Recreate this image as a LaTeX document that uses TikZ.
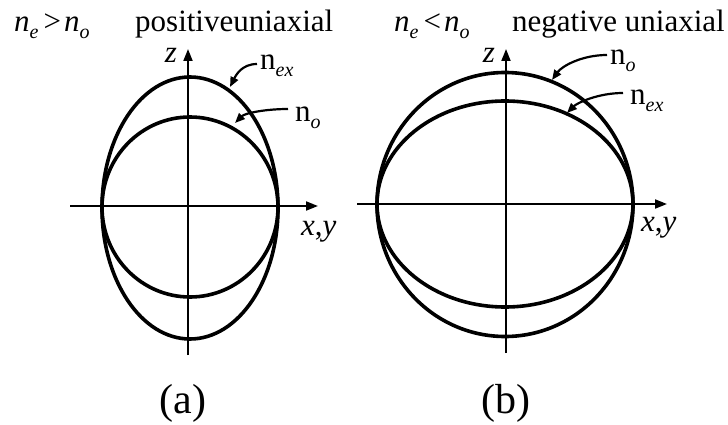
\documentclass[tikz,border=0pt]{standalone}
\usepackage{fontspec}
\setmainfont{Liberation Serif}
\usetikzlibrary{arrows.meta}
\newcommand\lsub[1]{\raisebox{-0.22em}{\fontsize{20}{20}\selectfont\itshape #1}}
\begin{document}
\begin{tikzpicture}[x=1pt,y=-1pt,
  txt/.style={inner sep=0pt,font=\fontsize{31}{34}\selectfont},
  captext/.style={inner sep=0pt,font=\fontsize{42}{46}\selectfont},
  axis/.style={line width=1.8pt,-{Triangle[length=12pt,width=9pt]}},
  shell/.style={line width=3.6pt},
  pointer/.style={line width=2.2pt,-{Triangle[length=10pt,width=8pt]}}]
\useasboundingbox (0,0) rectangle (728,425);
% ---------- panel (a)
\node[txt,anchor=base west] (ta1) at (14,32) {\textit{n}\lsub{e}\hspace{5pt}>\hspace{3pt}\textit{n}\lsub{o}};
\node[txt,anchor=base west] (ta2) at (135,32) {positiveuniaxial};
\coordinate (aL) at (70,206);
\coordinate (aR) at (318,206);
\coordinate (aB) at (188,355);
\coordinate (aT) at (188,49);
\draw[axis] (aL) -- (aR);
\draw[axis] (aB) -- (aT);
\node[txt,anchor=base] (za) at (171,63) {\textit{z}};
\node[txt,anchor=base west] (xya) at (301,235) {\textit{x},\textit{y}};
\draw[shell] (190,208) ellipse [x radius=88, y radius=131];
\draw[shell] (190,207) ellipse [x radius=88, y radius=90];
\node[txt,anchor=base west] (nexa) at (260,70) {n\lsub{ex}};
\node[txt,anchor=base west] (noa) at (295,122) {n\lsub{o}};
\coordinate (tnexa) at (230,87);
\coordinate (tnoa) at (235,123);
\draw[pointer] ([shift={(-3,-6)}]nexa.base west) .. controls +(-15,0) and +(6,-12) .. (tnexa);
\draw[pointer] ([shift={(-7,-13)}]noa.base west) .. controls +(-22,0) and +(10,-10) .. (tnoa);
\node[captext,anchor=base] (capa) at (183,413) {(a)};
% ---------- panel (b)
\node[txt,anchor=base west] (tb1) at (394,32) {\textit{n}\lsub{e}\hspace{5pt}<\hspace{3pt}\textit{n}\lsub{o}};
\node[txt,anchor=base east] (tb2) at (725,32) {negative uniaxial};
\coordinate (bL) at (357,204);
\coordinate (bR) at (667,204);
\coordinate (bB) at (506,353);
\coordinate (bT) at (506,49);
\draw[axis] (bL) -- (bR);
\draw[axis] (bB) -- (bT);
\node[txt,anchor=base] (zb) at (489,63) {\textit{z}};
\node[txt,anchor=base west] (xyb) at (641,231) {\textit{x},\textit{y}};
\draw[shell] (505,204.5) ellipse [x radius=128, y radius=132];
\draw[shell] (505,204) ellipse [x radius=128, y radius=103];
\node[txt,anchor=base west] (nob) at (610,65) {n\lsub{o}};
\node[txt,anchor=base west] (nexb) at (630,105) {n\lsub{ex}};
\coordinate (tnob) at (552,80);
\coordinate (tnexb) at (567,113);
\draw[pointer] ([shift={(-3,-10)}]nob.base west) .. controls +(-25,0) and +(10,-14) .. (tnob);
\draw[pointer] ([shift={(-7,-12)}]nexb.base west) .. controls +(-25,0) and +(10,-10) .. (tnexb);
\node[captext,anchor=base] (capb) at (506,413) {(b)};
\end{tikzpicture}
\end{document}
